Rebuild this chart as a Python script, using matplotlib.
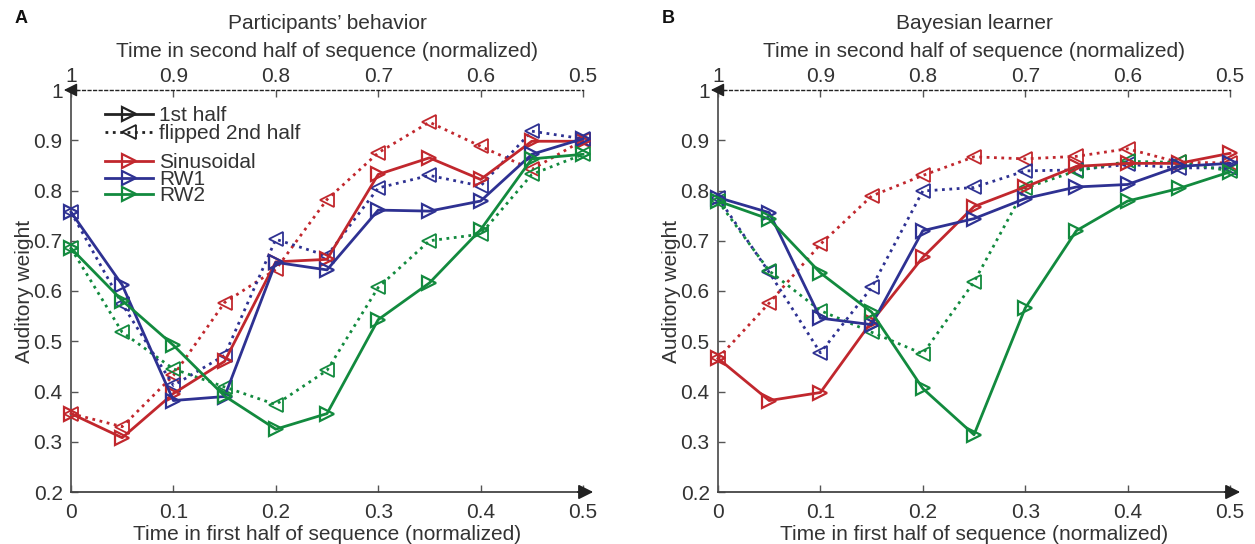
import numpy as np
import matplotlib.pyplot as plt
from matplotlib.lines import Line2D

plt.rcParams['font.family'] = ['Liberation Sans', 'DejaVu Sans']

# ============== Data ==============
TIME = [0, 0.05, 0.1, 0.15, 0.2, 0.25, 0.3, 0.35, 0.4, 0.45, 0.5]
TOP_TICKS = [1, 0.9, 0.8, 0.7, 0.6, 0.5]
TOP_POS = [0, 0.1, 0.2, 0.3, 0.4, 0.5]
CONDITIONS = ['Sinusoidal', 'RW1', 'RW2']

# Participants' behavior
A_SIN_FIRST = [0.356, 0.308, 0.396, 0.460, 0.658, 0.663, 0.832, 0.865, 0.822, 0.898, 0.898]
A_SIN_FLIP = [0.356, 0.330, 0.432, 0.577, 0.643, 0.782, 0.875, 0.936, 0.888, 0.842, 0.900]
A_RW1_FIRST = [0.757, 0.612, 0.382, 0.390, 0.657, 0.642, 0.761, 0.759, 0.779, 0.872, 0.903]
A_RW1_FLIP = [0.757, 0.574, 0.412, 0.472, 0.703, 0.670, 0.805, 0.830, 0.809, 0.918, 0.903]
A_RW2_FIRST = [0.685, 0.581, 0.492, 0.391, 0.325, 0.356, 0.543, 0.616, 0.722, 0.863, 0.872]
A_RW2_FLIP = [0.685, 0.518, 0.445, 0.409, 0.374, 0.442, 0.607, 0.700, 0.713, 0.832, 0.872]

# Bayesian learner
B_SIN_FIRST = [0.466, 0.382, 0.398, 0.539, 0.667, 0.768, 0.807, 0.848, 0.854, 0.854, 0.874]
B_SIN_FLIP = [0.466, 0.576, 0.693, 0.789, 0.830, 0.867, 0.863, 0.868, 0.883, 0.856, 0.855]
B_RW1_FIRST = [0.786, 0.756, 0.546, 0.533, 0.720, 0.744, 0.784, 0.807, 0.812, 0.848, 0.854]
B_RW1_FLIP = [0.786, 0.637, 0.477, 0.607, 0.799, 0.806, 0.839, 0.841, 0.852, 0.845, 0.845]
B_RW2_FIRST = [0.779, 0.743, 0.636, 0.558, 0.406, 0.314, 0.566, 0.720, 0.779, 0.804, 0.837]
B_RW2_FLIP = [0.779, 0.640, 0.561, 0.518, 0.475, 0.618, 0.805, 0.839, 0.858, 0.856, 0.839]

COLORS = {'Sinusoidal': '#c1272d', 'RW1': '#2e3192', 'RW2': '#128a3e'}
TXT = '#333333'
FS = 15


def draw_panel(ax, first, flipped, title, letter, show_legend):
    for name, y1, y2 in zip(CONDITIONS, first, flipped):
        c = COLORS[name]
        ax.plot(TIME, y2, ':', color=c, lw=2, marker='<', ms=9.5, mfc='none',
                mew=1.3, clip_on=False, zorder=3)
        ax.plot(TIME, y1, '-', color=c, lw=2, marker='>', ms=9.5, mfc='none',
                mew=1.6, clip_on=False, zorder=4)

    ax.set_xlim(0, 0.5)
    ax.set_ylim(0.2, 1)
    ax.set_xticks(TOP_POS)
    ax.set_xticklabels(['0', '0.1', '0.2', '0.3', '0.4', '0.5'])
    ax.set_yticks(np.arange(0.2, 1.01, 0.1))
    ax.set_yticklabels(['0.2', '0.3', '0.4', '0.5', '0.6', '0.7', '0.8', '0.9', '1'])
    ax.tick_params(direction='in', length=5, width=1, colors='#555555',
                   labelcolor=TXT, labelsize=FS)
    ax.tick_params(axis='x', pad=8)
    ax.tick_params(axis='y', pad=6)
    ax.spines['right'].set_visible(False)
    ax.spines['top'].set_linestyle((0, (2, 2)))
    ax.spines['top'].set_linewidth(1)
    ax.spines['top'].set_color('#222222')
    ax.spines['left'].set_color('#555555')
    ax.spines['left'].set_linewidth(1.3)
    ax.spines['bottom'].set_color('#444444')
    ax.spines['bottom'].set_linewidth(1.3)

    # arrowheads on the axes
    ax.annotate('', xy=(1.02, 0), xytext=(0.99, 0), xycoords='axes fraction',
                arrowprops=dict(arrowstyle='-|>', color='#222222', lw=1.3,
                                mutation_scale=22, shrinkA=0, shrinkB=0))
    ax.annotate('', xy=(-0.014, 1), xytext=(0.01, 1), xycoords='axes fraction',
                arrowprops=dict(arrowstyle='-|>', color='#222222', lw=1,
                                mutation_scale=20, shrinkA=0, shrinkB=0))

    top = ax.secondary_xaxis('top', functions=(lambda x: 1 - x, lambda x: 1 - x))
    top.set_xticks(TOP_TICKS)
    top.set_xticklabels([f'{t:g}' for t in TOP_TICKS])
    top.tick_params(direction='in', length=5, width=1, colors='#555555',
                    labelcolor=TXT, labelsize=FS, pad=3)
    top.spines['top'].set_visible(False)
    top.set_xlabel('Time in second half of sequence (normalized)', fontsize=FS,
                   color=TXT, labelpad=7)

    ax.set_xlabel('Time in first half of sequence (normalized)', fontsize=FS,
                  color=TXT, labelpad=2)
    ax.set_ylabel('Auditory weight', fontsize=FS, color=TXT, labelpad=0)
    ax.set_title(title, fontsize=FS, color=TXT, pad=44)
    ax.text(-0.11, 1.179, letter, transform=ax.transAxes, fontsize=13,
            fontweight='bold', color='#111111', ha='left', va='center')

    if show_legend:
        style_handles = [
            Line2D([], [], color='#222222', ls='-', lw=2, marker='>', ms=9.5,
                   mfc='none', mew=1.6),
            Line2D([], [], color='#222222', ls=':', lw=2, marker='<', ms=9.5,
                   mfc='none', mew=1.3),
        ]
        leg1 = ax.legend(style_handles, ['1st half', 'flipped 2nd half'],
                         loc='upper left', bbox_to_anchor=(0.05, 0.980),
                         frameon=False, fontsize=FS, handlelength=2.3,
                         handletextpad=0.3, labelspacing=-0.05, borderaxespad=0,
                         labelcolor=TXT)
        ax.add_artist(leg1)
        color_handles = [Line2D([], [], color=COLORS[n], ls='-', lw=2, marker='>',
                                ms=9.5, mfc='none', mew=1.6) for n in CONDITIONS]
        ax.legend(color_handles, CONDITIONS, loc='upper left',
                  bbox_to_anchor=(0.05, 0.863), frameon=False, fontsize=FS,
                  handlelength=2.3, handletextpad=0.3, labelspacing=-0.12,
                  borderaxespad=0, labelcolor=TXT)


fig = plt.figure(figsize=(12.55, 5.44), dpi=100)
ax_a = fig.add_axes([71 / 1255, 52 / 544, 512 / 1255, 402 / 544])
ax_b = fig.add_axes([718 / 1255, 52 / 544, 512 / 1255, 402 / 544])

draw_panel(ax_a, [A_SIN_FIRST, A_RW1_FIRST, A_RW2_FIRST],
           [A_SIN_FLIP, A_RW1_FLIP, A_RW2_FLIP],
           "Participants\u2019 behavior", 'A', True)
draw_panel(ax_b, [B_SIN_FIRST, B_RW1_FIRST, B_RW2_FIRST],
           [B_SIN_FLIP, B_RW1_FLIP, B_RW2_FLIP],
           'Bayesian learner', 'B', False)

fig.savefig('out.png', dpi=100)
